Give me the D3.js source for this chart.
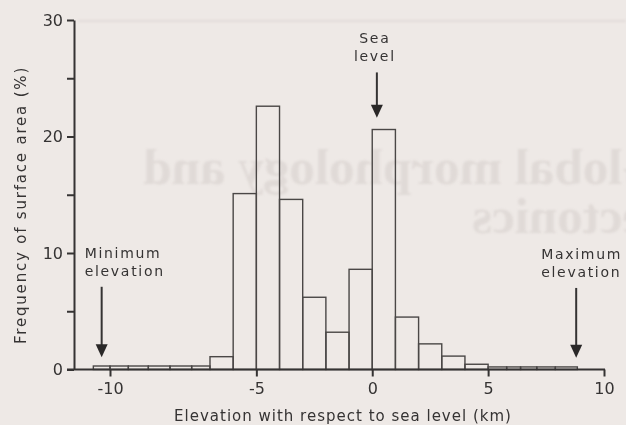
<!DOCTYPE html>
<html>
<head>
    <meta charset="utf-8">
    <title>Hypsometry histogram</title>
    <script src="https://cdn.jsdelivr.net/npm/d3@7/dist/d3.min.js" charset="utf-8"></script>
    <style>
        html,
        body {
            width: 626px;
            height: 425px;
            padding: 0;
            margin: 0;
            background: #eee9e6;
            overflow: hidden;
        }

        svg.main {
            display: block;
        }
    </style>
</head>

<body>
    <svg class="main" width="626" height="425"></svg>
</body>

<script>
    // elevation bin edges (km) and % of surface area in each bin
    var binEdges = [-10.5, -10, -9.45, -8.85, -8.2, -7.55, -7, -6, -5, -4, -3, -2, -1, 0, 1, 2, 3, 4, 5, 5.8, 6.4, 7.1, 7.9, 8.85];
    var frequency = [0.3, 0.3, 0.3, 0.3, 0.3, 0.3, 1.1, 15.1, 22.6, 14.6, 6.2, 3.2, 8.6, 20.6, 4.5, 2.2, 1.15, 0.45, 0.22, 0.22, 0.22, 0.22, 0.22];

    var yTicks = [0, 5, 10, 15, 20, 25, 30];
    var xTicks = [-10, -5, 0, 5, 10];

    // labelled arrows: text lines, elevation (km), tip and tail (%)
    var markerText = [["Sea", "level"], ["Minimum", "elevation"], ["Maximum", "elevation"]];
    var markerElev = [0.2, -10.25, 8.8];
    var markerTip = [21.6, 1.05, 1.0];
    var markerTail = [25.5, 7.1, 7.0];

    var ink = "#353333";
    var font = "'DejaVu Sans', sans-serif";

    var svg = d3.select("svg.main");

    // the scan is hand drawn: the left part of the axis is stretched
    var x = d3.scaleLinear()
        .domain([-10, -7, 10])
        .range([110, 210, 604]);

    var y = d3.scaleLinear()
        .domain([0, 30])
        .range([369.5, 20]);

    var axisX = 74;

    // show-through from the back of the page (mirrored)
    var bleed = svg.append("g")
        .attr("class", "bleed")
        .style("filter", "blur(1.1px)");

    bleed.append("line")
        .attr("x1", 78).attr("x2", 626)
        .attr("y1", 21).attr("y2", 21)
        .attr("stroke", "#dfd9d6")
        .attr("stroke-width", 1.5);

    bleed.selectAll("text")
        .data(["Global morphology and", "tectonics"])
        .enter()
        .append("text")
        .attr("transform", function (d, i) {
            return "translate(662," + (184 + i * 49) + ") scale(-1,1)";
        })
        .style("font-family", "'Liberation Serif', serif")
        .style("font-weight", "bold")
        .style("font-size", "51px")
        .style("fill", "#e0dad7")
        .text(function (d) { return d; });

    // bars
    var bins = frequency.map(function (v, i) {
        return { x0: binEdges[i], x1: binEdges[i + 1], v: v };
    });

    svg.append("g")
        .attr("class", "bars")
        .selectAll("rect")
        .data(bins)
        .enter()
        .append("rect")
        .attr("x", function (d) { return x(d.x0); })
        .attr("width", function (d) { return x(d.x1) - x(d.x0); })
        .attr("y", function (d) { return y(d.v); })
        .attr("height", function (d) { return y(0) - y(d.v); })
        .attr("fill", "none")
        .attr("stroke", "#4a4746")
        .attr("stroke-width", 1.4);

    // y axis
    var yAxis = svg.append("g")
        .attr("transform", "translate(" + axisX + ",0)")
        .call(d3.axisLeft(y)
            .tickValues(yTicks)
            .tickSize(7)
            .tickSizeOuter(0)
            .tickPadding(4)
            .tickFormat(function (d) { return d % 10 === 0 ? d : ""; }));

    // x axis
    var xAxis = svg.append("g")
        .attr("transform", "translate(0," + y(0) + ")")
        .call(d3.axisBottom(x)
            .tickValues(xTicks)
            .tickSize(7)
            .tickSizeOuter(0)
            .tickPadding(6)
            .tickFormat(function (d) { return String(d); }));

    // baseline runs from the y axis to the last tick
    xAxis.select(".domain").remove();
    xAxis.append("line")
        .attr("x1", axisX - 7)
        .attr("x2", x(10) + 1)
        .attr("stroke", ink)
        .attr("stroke-width", 2);

    [yAxis, xAxis].forEach(function (g) {
        g.selectAll("line, path")
            .attr("stroke", ink)
            .attr("stroke-width", 2);
        g.selectAll("text")
            .style("font-family", font)
            .style("font-size", "16px")
            .attr("fill", ink);
    });

    // axis titles
    svg.append("text")
        .attr("x", 343)
        .attr("y", 421)
        .attr("text-anchor", "middle")
        .style("font-family", font)
        .style("font-size", "15px")
        .style("letter-spacing", "1px")
        .attr("fill", ink)
        .text("Elevation with respect to sea level (km)");

    svg.append("text")
        .attr("transform", "translate(26,205) rotate(-90)")
        .attr("text-anchor", "middle")
        .style("font-family", font)
        .style("font-size", "15px")
        .style("letter-spacing", "1.8px")
        .attr("fill", ink)
        .text("Frequency of surface area (%)");

    // arrows with labels
    var anchorShift = [-2, -17, -35];
    var anchorType = ["middle", "start", "start"];

    markerText.forEach(function (lines, i) {
        var ax = x(markerElev[i]);
        var top = y(markerTail[i]);
        var tip = y(markerTip[i]);
        var g = svg.append("g").attr("class", "marker");

        g.append("line")
            .attr("x1", ax).attr("x2", ax)
            .attr("y1", top).attr("y2", tip - 10)
            .attr("stroke", ink)
            .attr("stroke-width", 2);

        g.append("path")
            .attr("d", "M" + (ax - 6) + "," + (tip - 13) + "L" + (ax + 6) + "," + (tip - 13) + "L" + ax + "," + tip + "Z")
            .attr("fill", "#2a2828");

        g.selectAll("text")
            .data(lines)
            .enter()
            .append("text")
            .attr("x", ax + anchorShift[i])
            .attr("y", function (d, k) { return top - 29 + k * 18; })
            .attr("text-anchor", anchorType[i])
            .style("font-family", font)
            .style("font-size", "14px")
            .style("letter-spacing", "1.7px")
            .attr("fill", ink)
            .text(function (d) { return d; });
    });
</script>

</html>
